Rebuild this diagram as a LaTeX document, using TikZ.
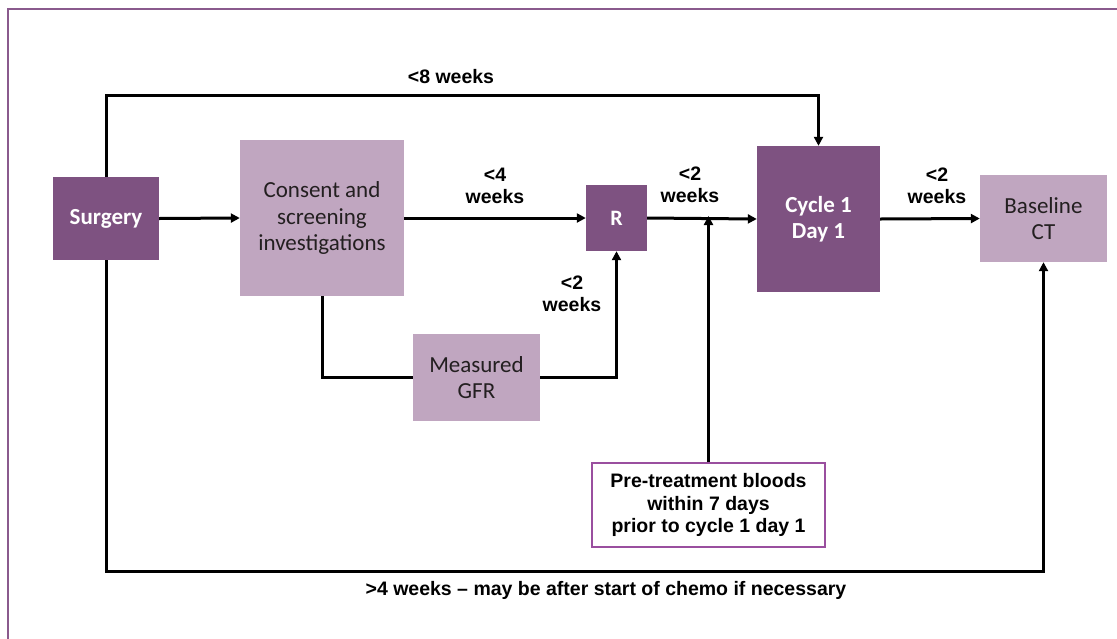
\documentclass[tikz,border=0pt]{standalone}
\usepackage{fontspec}
\setmainfont{Liberation Sans}
\newfontfamily\boxfont{Carlito}
\usetikzlibrary{arrows.meta}
\definecolor{darkplum}{HTML}{7E5281}
\definecolor{lightplum}{HTML}{C0A6C0}
\definecolor{framec}{HTML}{8A5A8D}
\definecolor{bloodc}{HTML}{9A4F9F}
\definecolor{boxtext}{HTML}{231F20}
\begin{document}
\begin{tikzpicture}[x=1pt,y=-1pt,
  darkbox/.style={fill=darkplum, draw=none, text=white, align=center,
    font=\boxfont\bfseries\fontsize{23}{26.5}\selectfont, inner sep=0pt},
  lightbox/.style={fill=lightplum, draw=none, text=boxtext, align=center,
    font=\boxfont\fontsize{23}{26.5}\selectfont, inner sep=0pt},
  lbl/.style={align=center, font=\bfseries\fontsize{19.5}{22.5}\selectfont, inner sep=0pt},
  conn/.style={draw=black, line width=3pt},
  arr/.style={conn, -{Triangle[length=9pt,width=9pt]}}
]
\path[use as bounding box, clip] (0,0) rectangle (1117,638);
% outer frame
\draw[framec, line width=1.6pt] (8,9) rectangle (1140,660);

% boxes (text sits slightly below the geometric centre)
\node[darkbox, minimum width=106, minimum height=83] (surgery) at (106,218.5) {\raisebox{-3pt}{Surgery}};
\node[lightbox, minimum width=164, minimum height=156] (consent) at (322,218) {Consent and\\screening\\investigations};
\node[darkbox, minimum width=61, minimum height=66, font=\boxfont\bfseries\fontsize{22}{24}\selectfont] (r) at (616.5,218) {R};
\node[darkbox, minimum width=123, minimum height=146] (cycle) at (818.5,219) {Cycle 1\\Day 1};
\node[lightbox, minimum width=127, minimum height=87] (baseline) at (1043.5,218.5) {Baseline\\CT};
\node[lightbox, minimum width=127, minimum height=87] (gfr) at (476.5,377.5) {Measured\\GFR};
\node[draw=bloodc, line width=1.2pt, minimum width=233, minimum height=84, align=center,
  font=\bfseries\fontsize{19.5}{22.5}\selectfont, inner sep=0pt] (pre) at (708.5,505)
  {Pre-treatment bloods\\within 7 days\\prior to cycle 1 day 1};

% routing levels
\coordinate (topy) at (0,95);
\coordinate (boty) at (0,571);
\coordinate (junc) at (pre.north |- r.east);

% connectors
\draw[arr] (surgery.east) -- (consent.west);
\draw[arr] (consent.east) -- (r.west);
\draw[arr] (r.east) -- (cycle.west);
\draw[arr] (cycle.east) -- (baseline.west);
\draw[conn] (consent.south) |- (gfr.west);
\draw[arr] (gfr.east) -| (r.south);
\draw[arr] (pre.north) -- ([yshift=2pt]junc);
\draw[arr] (surgery.north) -- (surgery.north |- topy) -| (cycle.north);
\draw[arr] (surgery.south) -- (surgery.south |- boty) -| (baseline.south);

% labels
\node[lbl] (l8) at (451,77) {<8 weeks};
\node[lbl] (l4) at (495,186) {<4\\weeks};
\node[lbl] (l2a) at (690,185) {<2\\weeks};
\node[lbl] (l2b) at (572,294) {<2\\weeks};
\node[lbl] (l2c) at (937,186) {<2\\weeks};
\node[lbl] (l4b) at (606,590) {>4 weeks – may be after start of chemo if necessary};
\end{tikzpicture}
\end{document}
